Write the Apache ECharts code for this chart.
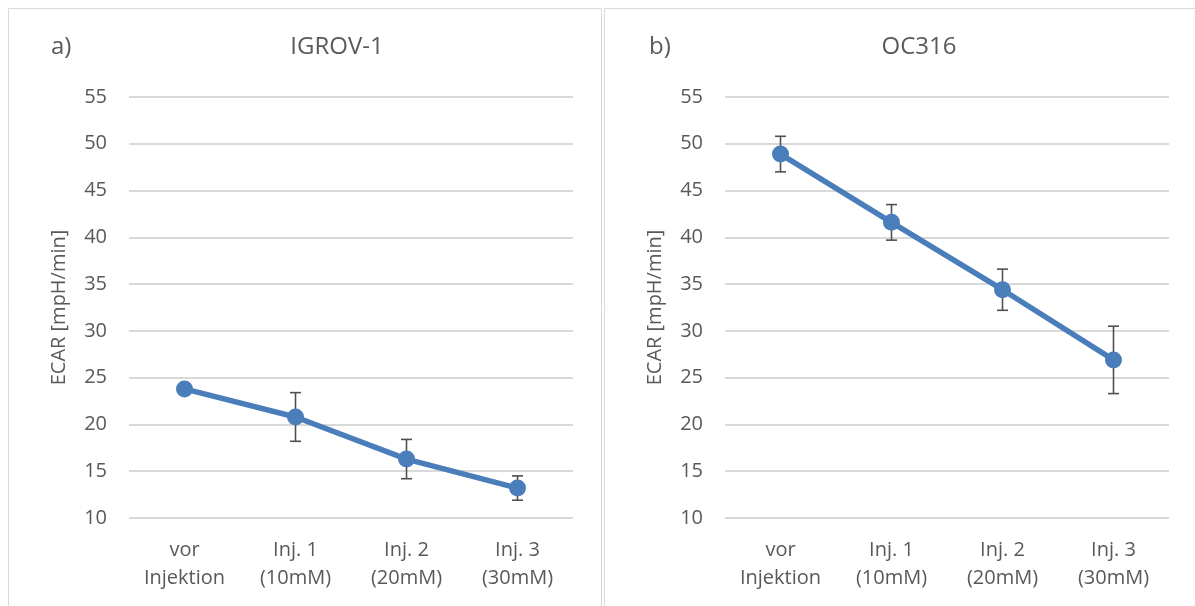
<!DOCTYPE html>
<html>
<head>
<meta charset="utf-8">
<script src="https://cdn.jsdelivr.net/npm/echarts@6/dist/echarts.min.js"></script>
<style>
  html, body { margin: 0; padding: 0; background: #fff; }
  #chart { width: 1195px; height: 606px; }
</style>
</head>
<body>
<div id="chart"></div>
<script>
// Kategorien (x-Achse)
const categories = ['vor\nInjektion', 'Inj. 1\n(10mM)', 'Inj. 2\n(20mM)', 'Inj. 3\n(30mM)'];
const yTicks = [10, 15, 20, 25, 30, 35, 40, 45, 50, 55];

// a) IGROV-1
const igrovMean = [23.8, 20.8, 16.3, 13.2];
const igrovErr = [0.3, 2.6, 2.1, 1.3];
// b) OC316
const ocMean = [48.9, 41.6, 34.4, 26.9];
const ocErr = [1.9, 1.9, 2.2, 3.6];

const textColor = '#595959';
const lineColor = '#4a7ebb';
const font = '"Open Sans", sans-serif';

const chart = echarts.init(document.getElementById('chart'));

function xAxisFor(gridIndex) {
  return {
    type: 'category',
    gridIndex: gridIndex,
    data: categories,
    boundaryGap: true,
    axisLine: { show: false },
    axisTick: { show: false },
    axisLabel: { color: textColor, fontFamily: font, fontSize: 20, lineHeight: 28, margin: 18, interval: 0 }
  };
}

function yAxisFor(gridIndex) {
  return {
    type: 'value',
    gridIndex: gridIndex,
    min: yTicks[0],
    max: yTicks[yTicks.length - 1],
    interval: 5,
    name: 'ECAR [mpH/min]',
    nameLocation: 'middle',
    nameGap: 60,
    nameTextStyle: { color: textColor, fontFamily: font, fontSize: 20 },
    axisLine: { show: false },
    axisTick: { show: false },
    axisLabel: { color: textColor, fontFamily: font, fontSize: 20, margin: 22 },
    splitLine: { lineStyle: { color: '#d9d9d9', width: 2 } }
  };
}

// Fehlerbalken als custom series
function errorSeries(idx, mean, err) {
  return {
    type: 'custom',
    xAxisIndex: idx,
    yAxisIndex: idx,
    z: 1,
    data: mean.map((m, i) => [i, m - err[i], m + err[i]]),
    renderItem: function (params, api) {
      const lo = api.coord([api.value(0), api.value(1)]);
      const hi = api.coord([api.value(0), api.value(2)]);
      const w = 5.5;
      const style = { stroke: '#505050', lineWidth: 1.6 };
      return {
        type: 'group',
        children: [
          { type: 'line', shape: { x1: lo[0], y1: lo[1], x2: hi[0], y2: hi[1] }, style: style },
          { type: 'line', shape: { x1: lo[0] - w, y1: lo[1], x2: lo[0] + w, y2: lo[1] }, style: style },
          { type: 'line', shape: { x1: hi[0] - w, y1: hi[1], x2: hi[0] + w, y2: hi[1] }, style: style }
        ]
      };
    }
  };
}

function lineSeries(idx, mean) {
  return {
    type: 'line',
    xAxisIndex: idx,
    yAxisIndex: idx,
    z: 3,
    data: mean,
    symbol: 'circle',
    symbolSize: 17,
    lineStyle: { color: lineColor, width: 5.5 },
    itemStyle: { color: lineColor },
    emphasis: { disabled: true }
  };
}

const option = {
  animation: false,
  textStyle: { fontFamily: font },
  graphic: [
    { type: 'rect', shape: { x: 8.5, y: 8.5, width: 593, height: 610 }, style: { fill: 'none', stroke: '#d9d9d9', lineWidth: 1 } },
    { type: 'rect', shape: { x: 604.5, y: 8.5, width: 610, height: 610 }, style: { fill: 'none', stroke: '#d9d9d9', lineWidth: 1 } }
  ],
  title: [
    { text: 'a)', left: 46, top: 30, textStyle: { color: textColor, fontFamily: font, fontSize: 24, fontWeight: 'normal' } },
    { text: 'IGROV-1', left: 332, top: 30, textAlign: 'center', textStyle: { color: textColor, fontFamily: font, fontSize: 24, fontWeight: 'normal' } },
    { text: 'b)', left: 644, top: 30, textStyle: { color: textColor, fontFamily: font, fontSize: 24, fontWeight: 'normal' } },
    { text: 'OC316', left: 914, top: 30, textAlign: 'center', textStyle: { color: textColor, fontFamily: font, fontSize: 24, fontWeight: 'normal' } }
  ],
  grid: [
    { left: 129, right: 622, top: 97, bottom: 88 },
    { left: 725, right: 26, top: 97, bottom: 88 }
  ],
  xAxis: [xAxisFor(0), xAxisFor(1)],
  yAxis: [yAxisFor(0), yAxisFor(1)],
  series: [
    errorSeries(0, igrovMean, igrovErr),
    lineSeries(0, igrovMean),
    errorSeries(1, ocMean, ocErr),
    lineSeries(1, ocMean)
  ]
};

chart.setOption(option);
</script>
</body>
</html>
